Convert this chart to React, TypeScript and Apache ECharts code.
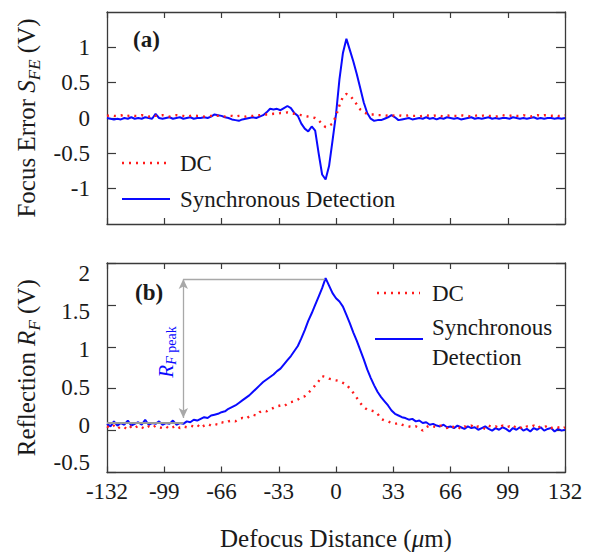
import React, { useEffect, useRef } from "react";
import * as echarts from "echarts";

// x sampling: -132 .. 132 µm, step 2 µm (133 points)
const X_MIN = -132;
const X_STEP = 2;

// (a) Focus error S_FE (V)
const sfeSync = [
  0.00, -0.01, -0.02, -0.01, -0.02, 0.00, -0.01, 0.01, -0.01, 0.00,
  -0.01, 0.01, 0.00, -0.01, 0.06, 0.00, -0.01, 0.00, 0.01, -0.01,
  0.00, 0.01, -0.01, 0.00, 0.01, -0.01, 0.00, 0.00, 0.01, 0.00,
  0.02, 0.05, 0.04, 0.03, 0.01, 0.00, -0.02, -0.03, -0.04, -0.02,
  -0.01, 0.00, 0.01, 0.00, 0.02, 0.04,
  0.08, 0.13, 0.12, 0.13, 0.11, 0.14, 0.17, 0.14, 0.07, 0.03,
  -0.08, -0.15, -0.19, -0.12, -0.18, -0.50, -0.80, -0.87, -0.68, -0.32,
  0.05, 0.55, 0.92, 1.12, 0.96, 0.80, 0.62, 0.42, 0.22, 0.07,
  -0.01, -0.04, -0.03, -0.03, -0.01, 0.01, 0.04, 0.01, -0.03, -0.02,
  -0.01, 0.00, -0.02, -0.01, 0.00, -0.01, 0.01, -0.01, 0.00, -0.02,
  0.00, -0.01, 0.01, 0.00, -0.01, 0.00, -0.02, -0.01, 0.00, 0.01,
  -0.01, 0.00, -0.01, 0.00, 0.01, -0.01, 0.00, -0.01, 0.00, 0.00,
  -0.01, 0.01, 0.00, -0.01, 0.00, -0.01, 0.00, 0.01, -0.01, 0.00,
  -0.01, 0.00, 0.00, -0.01, 0.00, -0.01, 0.00,
];
const sfeDC = [
  0.03, 0.04, 0.03, 0.03, 0.04, 0.02, 0.03, 0.04, 0.03, 0.03,
  0.04, 0.03, 0.02, 0.04, 0.03, 0.03, 0.04, 0.03, 0.02, 0.03,
  0.04, 0.03, 0.03, 0.02, 0.03, 0.04, 0.03, 0.03, 0.02, 0.03,
  0.03, 0.04, 0.03, 0.03, 0.02, 0.03, 0.03, 0.02, 0.03, 0.03,
  0.02, 0.03, 0.03, 0.04, 0.04, 0.05,
  0.05, 0.05, 0.06, 0.06, 0.07, 0.07, 0.08, 0.07, 0.06, 0.05,
  0.04, 0.03, 0.02, 0.01, 0.00, -0.03, -0.09, -0.13, -0.11, -0.08,
  0.03, 0.18, 0.30, 0.34, 0.32, 0.26, 0.19, 0.12, 0.08, 0.06,
  0.05, 0.05, 0.04, 0.04, 0.04, 0.03, 0.04, 0.03, 0.04, 0.03,
  0.03, 0.04, 0.03, 0.03, 0.02, 0.03, 0.04, 0.03, 0.03, 0.04,
  0.03, 0.02, 0.03, 0.04, 0.03, 0.03, 0.04, 0.03, 0.03, 0.02,
  0.03, 0.04, 0.03, 0.04, 0.03, 0.03, 0.02, 0.03, 0.04, 0.03,
  0.03, 0.04, 0.03, 0.03, 0.04, 0.03, 0.02, 0.03, 0.04, 0.03,
  0.04, 0.03, 0.03, 0.04, 0.03, 0.03, 0.04,
];

// (b) Reflection R_F (V)
const rfSync = [
  0.08, 0.05, 0.11, 0.06, 0.09, 0.07, 0.12, 0.06, 0.08, 0.10,
  0.07, 0.13, 0.07, 0.09, 0.08, 0.11, 0.07, 0.09, 0.08, 0.12,
  0.07, 0.09, 0.08, 0.11, 0.10, 0.13,
  0.12, 0.14, 0.16, 0.15, 0.18, 0.19, 0.20, 0.22, 0.23, 0.26,
  0.28, 0.30, 0.33, 0.36, 0.39, 0.42, 0.46, 0.50, 0.54, 0.58,
  0.61, 0.64, 0.67, 0.71, 0.74, 0.79, 0.84, 0.89, 0.95, 1.01,
  1.10, 1.20, 1.31, 1.40, 1.50, 1.60, 1.70, 1.82, 1.73, 1.64,
  1.58, 1.54, 1.48, 1.38, 1.28, 1.17, 1.07, 0.96, 0.85, 0.73,
  0.63, 0.54, 0.46, 0.40, 0.35, 0.30, 0.24, 0.20, 0.18, 0.16,
  0.15, 0.13, 0.14, 0.11, 0.12, 0.09, 0.10, 0.07, 0.08, 0.06,
  0.05, 0.07, 0.04, 0.05, 0.03, 0.06, 0.04, 0.02, 0.05, 0.03,
  0.04, 0.01, 0.03, 0.05, 0.02, 0.00, 0.03, 0.01, 0.04, 0.02,
  -0.01, 0.03, 0.01, 0.04, 0.00, 0.02, -0.01, 0.03, 0.01, 0.04,
  0.00, 0.02, 0.03, -0.01, 0.02, 0.00, 0.01,
];
const rfDC = [
  0.05, 0.03, 0.06, 0.02, 0.05, 0.04, 0.01, 0.05, 0.03, 0.06,
  0.04, 0.02, 0.05, 0.03, 0.06, 0.04, 0.03, 0.05, 0.02, 0.04,
  0.06, 0.03, 0.05, 0.04, 0.06, 0.05,
  0.07, 0.03, 0.06, 0.08, 0.06, 0.08, 0.07, 0.10, 0.09, 0.11,
  0.12, 0.11, 0.14, 0.15, 0.14, 0.17, 0.19, 0.18, 0.22, 0.24,
  0.23, 0.26, 0.27, 0.29, 0.30, 0.29, 0.32, 0.34, 0.35, 0.37,
  0.40, 0.41, 0.45, 0.49, 0.54, 0.59, 0.65, 0.64, 0.62, 0.61,
  0.60, 0.59, 0.57, 0.55, 0.50, 0.45, 0.39, 0.33, 0.28, 0.25,
  0.24, 0.23, 0.20, 0.14, 0.12, 0.11, 0.09, 0.08, 0.09, 0.07,
  0.06, 0.05, 0.04, 0.05, 0.03, 0.00, 0.04, 0.06, 0.05, 0.04,
  0.06, 0.05, 0.03, 0.06, 0.04, 0.05, 0.02, 0.05, 0.04, 0.06,
  0.03, 0.05, 0.04, 0.02, 0.06, 0.04, 0.05, 0.03, 0.06, 0.04,
  0.05, 0.03, 0.06, 0.04, 0.02, 0.05, 0.04, 0.06, 0.03, 0.05,
  0.04, 0.06, 0.03, 0.05, 0.04, 0.02, 0.04,
];

// tick labels of panel (b) and their vertical shift off the ticks (px), as in the reference
const rfTickLabels = ["-0.5", "0", "0.5", "1", "1.5", "2"];
const rfLabelShift = [-10, -5.6, -1.5, 2.6, 6.7, 10.8];

// R_F peak annotation (data units)
const annotRefX = -88;
const annotPeakX = -6.5;
const annotPeak = 1.81;
const annotBase = 0.15;
const baseLevel = 0.09;

const FONT = "Liberation Serif";
const TXT = "#1a1a1a";
const AXIS = "#3a3a3a";
const BLUE = "#0a0aff";
const RED = "#ff1a1a";
const TICK_FS = 23;
const LEG_FS = 23;
const TITLE_FS = 25;

const toPairs = (arr: number[]) => arr.map((v, i) => [X_MIN + i * X_STEP, v]);

const txt = (size: number, extra: any = {}) => ({
  fontFamily: FONT,
  fontSize: size,
  ...extra,
});

export default function App() {
  const ref = useRef<HTMLDivElement>(null);
  useEffect(() => {
    if (!ref.current) return;
    const chart = echarts.init(ref.current, null, { renderer: "svg" });

    const gridL = 107;
    const gridW = 458;
    const grids = [
      { left: gridL, top: 12, width: gridW, height: 212 },
      { left: gridL, top: 263, width: gridW, height: 212 },
    ];

    const xBase = (gi: number, pos: string, labels: boolean) => ({
      type: "value",
      gridIndex: gi,
      position: pos,
      min: -132,
      max: 132,
      interval: 33,
      axisLine: { show: true, onZero: false, lineStyle: { color: AXIS, width: 1.3 } },
      axisTick: { show: true, inside: true, length: 6, lineStyle: { color: AXIS, width: 1.2 } },
      splitLine: { show: false },
      axisLabel: { show: labels, color: TXT, ...txt(TICK_FS), margin: 7 },
    });
    const yBase = (gi: number, pos: string, min: number, max: number, labels: boolean, hideEnds: boolean) => ({
      type: "value",
      gridIndex: gi,
      position: pos,
      min,
      max,
      interval: 0.5,
      axisLine: { show: true, onZero: false, lineStyle: { color: AXIS, width: 1.3 } },
      axisTick: { show: true, inside: true, length: 9, lineStyle: { color: AXIS, width: 1.2 } },
      splitLine: { show: false },
      axisLabel: {
        show: labels,
        color: TXT,
        ...txt(TICK_FS),
        margin: 17,
        showMinLabel: !hideEnds,
        showMaxLabel: !hideEnds,
      },
    });

    const richName = {
      r: { ...txt(TITLE_FS), color: TXT, lineHeight: 32 },
      i: { ...txt(TITLE_FS, { fontStyle: "italic" }), color: TXT, lineHeight: 32 },
      s: { ...txt(17, { fontStyle: "italic" }), color: TXT, lineHeight: 16, verticalAlign: "bottom" },
    };

    const yA: any = yBase(0, "left", -1.5, 1.5, true, true);
    yA.name = "{r|Focus Error }{i|S}{s|FE}{r| (V)}";
    yA.nameLocation = "middle";
    yA.nameGap = 62;
    yA.nameTextStyle = { rich: richName };

    const yB: any = yBase(1, "left", -0.5, 2, true, false);
    const shiftRich: any = {};
    rfTickLabels.forEach((t, k) => {
      const d = rfLabelShift[k];
      shiftRich["t" + k] = {
        ...txt(TICK_FS),
        color: TXT,
        padding: d >= 0 ? [2 * d, 0, 0, 0] : [0, 0, -2 * d, 0],
      };
    });
    yB.axisLabel.formatter = (v: number) => {
      const k = Math.round((v + 0.5) / 0.5);
      return `{t${k}|${rfTickLabels[k] ?? v}}`;
    };
    yB.axisLabel.rich = shiftRich;
    yB.name = "{r|Reflection }{i|R}{s|F}{r| (V)}";
    yB.nameLocation = "middle";
    yB.nameGap = 59;
    yB.nameTextStyle = { rich: richName };

    const xB: any = xBase(1, "bottom", true);
    xB.name = "{r|Defocus Distance (}{i|μ}{r|m)}";
    xB.nameLocation = "middle";
    xB.nameGap = 50;
    xB.nameTextStyle = { rich: richName };

    const legText = (x: number, y: number, text: string) => ({
      type: "text",
      x,
      y,
      style: { text, ...txt(LEG_FS), fill: TXT, verticalAlign: "middle" },
    });

    const option: any = {
      animation: false,
      backgroundColor: "#ffffff",
      grid: grids,
      xAxis: [xBase(0, "bottom", false), xBase(0, "top", false), xB, xBase(1, "top", false)],
      yAxis: [yA, yBase(0, "right", -1.5, 1.5, false, true), yB, yBase(1, "right", -0.5, 2, false, false)],
      series: [
        {
          name: "Synchronous Detection (a)",
          type: "line",
          xAxisIndex: 0,
          yAxisIndex: 0,
          data: toPairs(sfeSync),
          showSymbol: false,
          lineStyle: { color: BLUE, width: 2 },
          z: 2,
        },
        {
          name: "DC (a)",
          type: "line",
          xAxisIndex: 0,
          yAxisIndex: 0,
          data: toPairs(sfeDC),
          showSymbol: false,
          lineStyle: { color: RED, width: 2.4, type: [2, 5] },
          z: 3,
        },
        {
          name: "Synchronous Detection (b)",
          type: "line",
          xAxisIndex: 2,
          yAxisIndex: 2,
          data: toPairs(rfSync),
          showSymbol: false,
          lineStyle: { color: BLUE, width: 2 },
          z: 2,
          markLine: {
            silent: true,
            animation: false,
            label: { show: false },
            lineStyle: { color: "#a8a8a8", width: 1.3, type: "solid" },
            data: [
              [
                { coord: [annotRefX, annotBase], symbol: "arrow", symbolSize: [7, 10] },
                { coord: [annotRefX, annotPeak], symbol: "arrow", symbolSize: [7, 10] },
              ],
              [
                { coord: [annotRefX, annotPeak], symbol: "none" },
                { coord: [annotPeakX, annotPeak], symbol: "none" },
              ],
              [
                { coord: [-132, baseLevel], symbol: "none", lineStyle: { width: 2.2, color: "#999" } },
                { coord: [annotRefX, baseLevel], symbol: "none" },
              ],
            ],
          },
        },
        {
          name: "DC (b)",
          type: "line",
          xAxisIndex: 2,
          yAxisIndex: 2,
          data: toPairs(rfDC),
          showSymbol: false,
          lineStyle: { color: RED, width: 2.4, type: [2, 5] },
          z: 3,
        },
      ],
      graphic: [
        { type: "text", left: 133, top: 28, style: { text: "(a)", ...txt(23, { fontWeight: "bold" }), fill: TXT } },
        { type: "text", left: 135, top: 281, style: { text: "(b)", ...txt(23, { fontWeight: "bold" }), fill: TXT } },
        // legend (a)
        { type: "line", shape: { x1: 122, y1: 163, x2: 170, y2: 163 }, style: { stroke: RED, lineWidth: 2.4, lineDash: [2, 5] } },
        legText(180, 163, "DC"),
        { type: "line", shape: { x1: 122, y1: 199, x2: 170, y2: 199 }, style: { stroke: BLUE, lineWidth: 2 } },
        legText(180, 199, "Synchronous Detection"),
        // legend (b)
        { type: "line", shape: { x1: 377, y1: 293, x2: 420, y2: 293 }, style: { stroke: RED, lineWidth: 2.4, lineDash: [2, 5] } },
        legText(432, 293, "DC"),
        { type: "line", shape: { x1: 375, y1: 339, x2: 423, y2: 339 }, style: { stroke: BLUE, lineWidth: 2 } },
        legText(432, 327, "Synchronous"),
        legText(432, 357, "Detection"),
        // R_F peak label
        {
          type: "text",
          x: 166,
          y: 352,
          rotation: Math.PI / 2,
          style: {
            text: "{i|R}{s|F}{p| peak}",
            align: "center",
            verticalAlign: "middle",
            rich: {
              i: { ...txt(21, { fontStyle: "italic" }), fill: BLUE, lineHeight: 24 },
              s: { ...txt(14, { fontStyle: "italic" }), fill: BLUE, lineHeight: 14, verticalAlign: "bottom" },
              p: { ...txt(14), fill: BLUE, lineHeight: 14, verticalAlign: "bottom" },
            },
          },
        },
      ],
    };
    chart.setOption(option);
    return () => chart.dispose();
  }, []);
  return (
    <div
      ref={ref}
      style={{ position: "fixed", left: 0, top: 0, width: 589, height: 552, background: "#fff" }}
    />
  );
}
